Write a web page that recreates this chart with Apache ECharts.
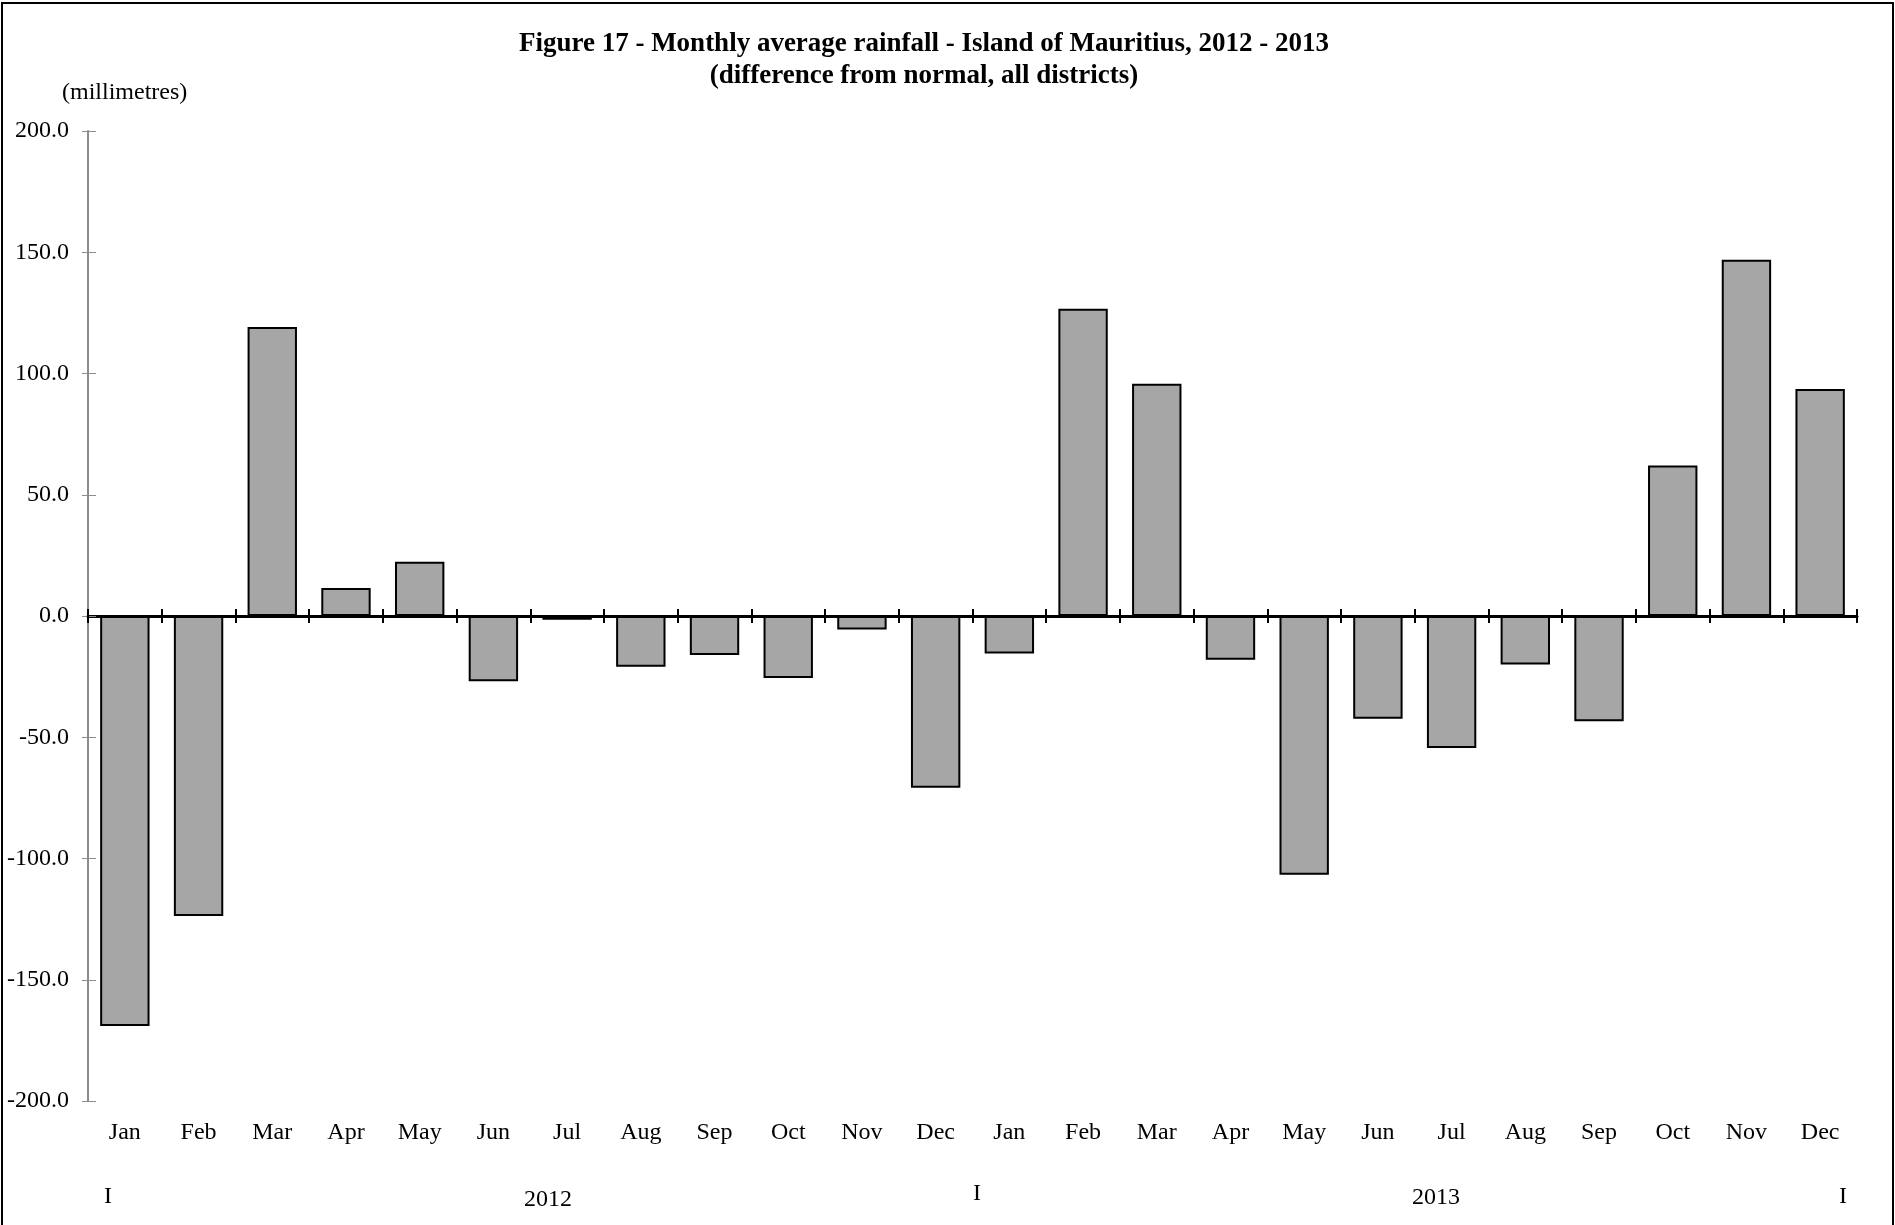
<!DOCTYPE html>
<html>
<head>
<meta charset="utf-8">
<script src="https://cdn.jsdelivr.net/npm/echarts@6/dist/echarts.min.js"></script>
<style>
html,body{margin:0;padding:0;background:#fff;}
#chart{width:1895px;height:1225px;}
</style>
</head>
<body>
<div id="chart"></div>
<script>
const months = ['Jan','Feb','Mar','Apr','May','Jun','Jul','Aug','Sep','Oct','Nov','Dec',
                'Jan','Feb','Mar','Apr','May','Jun','Jul','Aug','Sep','Oct','Nov','Dec'];
const rainfallDiff = [-169.1,-123.7,119.2,11.5,22.4,-26.9,-1.5,-20.9,-16.1,-25.6,-5.6,-70.8,
                      -15.5,126.7,95.8,-18.0,-106.7,-42.4,-54.4,-20.0,-43.4,62.1,146.9,93.6];
const yearLabels = ['2012','2013'];
const titleLines = ['Figure 17 - Monthly average rainfall - Island of Mauritius, 2012 - 2013',
                    '(difference from normal, all districts)'];
const unitLabel = '(millimetres)';

const FONT = "'Liberation Serif','Times New Roman',serif";
const FS = 24;
const chart = echarts.init(document.getElementById('chart'), null, {renderer:'canvas'});

const yBase = {
  type:'value', min:-200, max:200, interval:50, position:'left'
};

chart.setOption({
  backgroundColor:'#ffffff',
  animation:false,
  title:{
    text: titleLines.join('\n'),
    left: 919, top: 23, textAlign:'center',
    textStyle:{fontFamily:FONT, fontSize:27, fontWeight:'bold', color:'#000', lineHeight:32}
  },
  grid:{left:88, right:38, top:131, bottom:124, containLabel:false},
  xAxis:[
    { type:'category', data:months, position:'bottom',
      axisLine:{show:false, onZero:false}, axisTick:{show:false},
      axisLabel:{fontFamily:FONT, fontSize:FS, color:'#000', margin:20, interval:0}
    },
    { type:'category', data:months, position:'bottom',
      axisLine:{show:true, onZero:true, lineStyle:{color:'#000', width:3}},
      axisTick:{show:true, inside:false, length:7, lineStyle:{color:'#000', width:2}},
      axisLabel:{show:false}
    },
    { type:'category', data:months, position:'bottom',
      axisLine:{show:false, onZero:true},
      axisTick:{show:true, inside:true, length:7, lineStyle:{color:'#000', width:2}},
      axisLabel:{show:false}
    }
  ],
  yAxis:[
    Object.assign({}, yBase, {
      axisLine:{show:true, lineStyle:{color:'#8c8c8c', width:2}},
      axisTick:{show:true, inside:false, length:6, lineStyle:{color:'#8c8c8c', width:1}},
      axisLabel:{fontFamily:FONT, fontSize:FS, color:'#000', margin:19,
                 formatter:v=>v.toFixed(1)},
      splitLine:{show:false}
    }),
    Object.assign({}, yBase, {
      axisLine:{show:false},
      axisTick:{show:true, inside:true, length:8, lineStyle:{color:'#8c8c8c', width:1}},
      axisLabel:{show:false},
      splitLine:{show:false}
    })
  ],
  series:[{
    type:'bar', data:rainfallDiff, xAxisIndex:0, yAxisIndex:0,
    barCategoryGap:'33%',
    itemStyle:{color:'#a6a6a6', borderColor:'#000', borderWidth:2}
  }],
  graphic:[
    {type:'rect', shape:{x:2, y:3, width:1891, height:1240},
     style:{fill:'none', stroke:'#000', lineWidth:2}, silent:true},
    {type:'text', x:62, y:93,
     style:{text:unitLabel, font:FS+'px '+FONT, fill:'#000', textVerticalAlign:'middle'}},
    {type:'text', x:108, y:1197, style:{text:'I', font:FS+'px '+FONT, fill:'#000', textAlign:'center', textVerticalAlign:'middle'}},
    {type:'text', x:548, y:1200, style:{text:yearLabels[0], font:FS+'px '+FONT, fill:'#000', textAlign:'center', textVerticalAlign:'middle'}},
    {type:'text', x:977, y:1194, style:{text:'I', font:FS+'px '+FONT, fill:'#000', textAlign:'center', textVerticalAlign:'middle'}},
    {type:'text', x:1436, y:1198, style:{text:yearLabels[1], font:FS+'px '+FONT, fill:'#000', textAlign:'center', textVerticalAlign:'middle'}},
    {type:'text', x:1843, y:1197, style:{text:'I', font:FS+'px '+FONT, fill:'#000', textAlign:'center', textVerticalAlign:'middle'}}
  ]
});
</script>
</body>
</html>
